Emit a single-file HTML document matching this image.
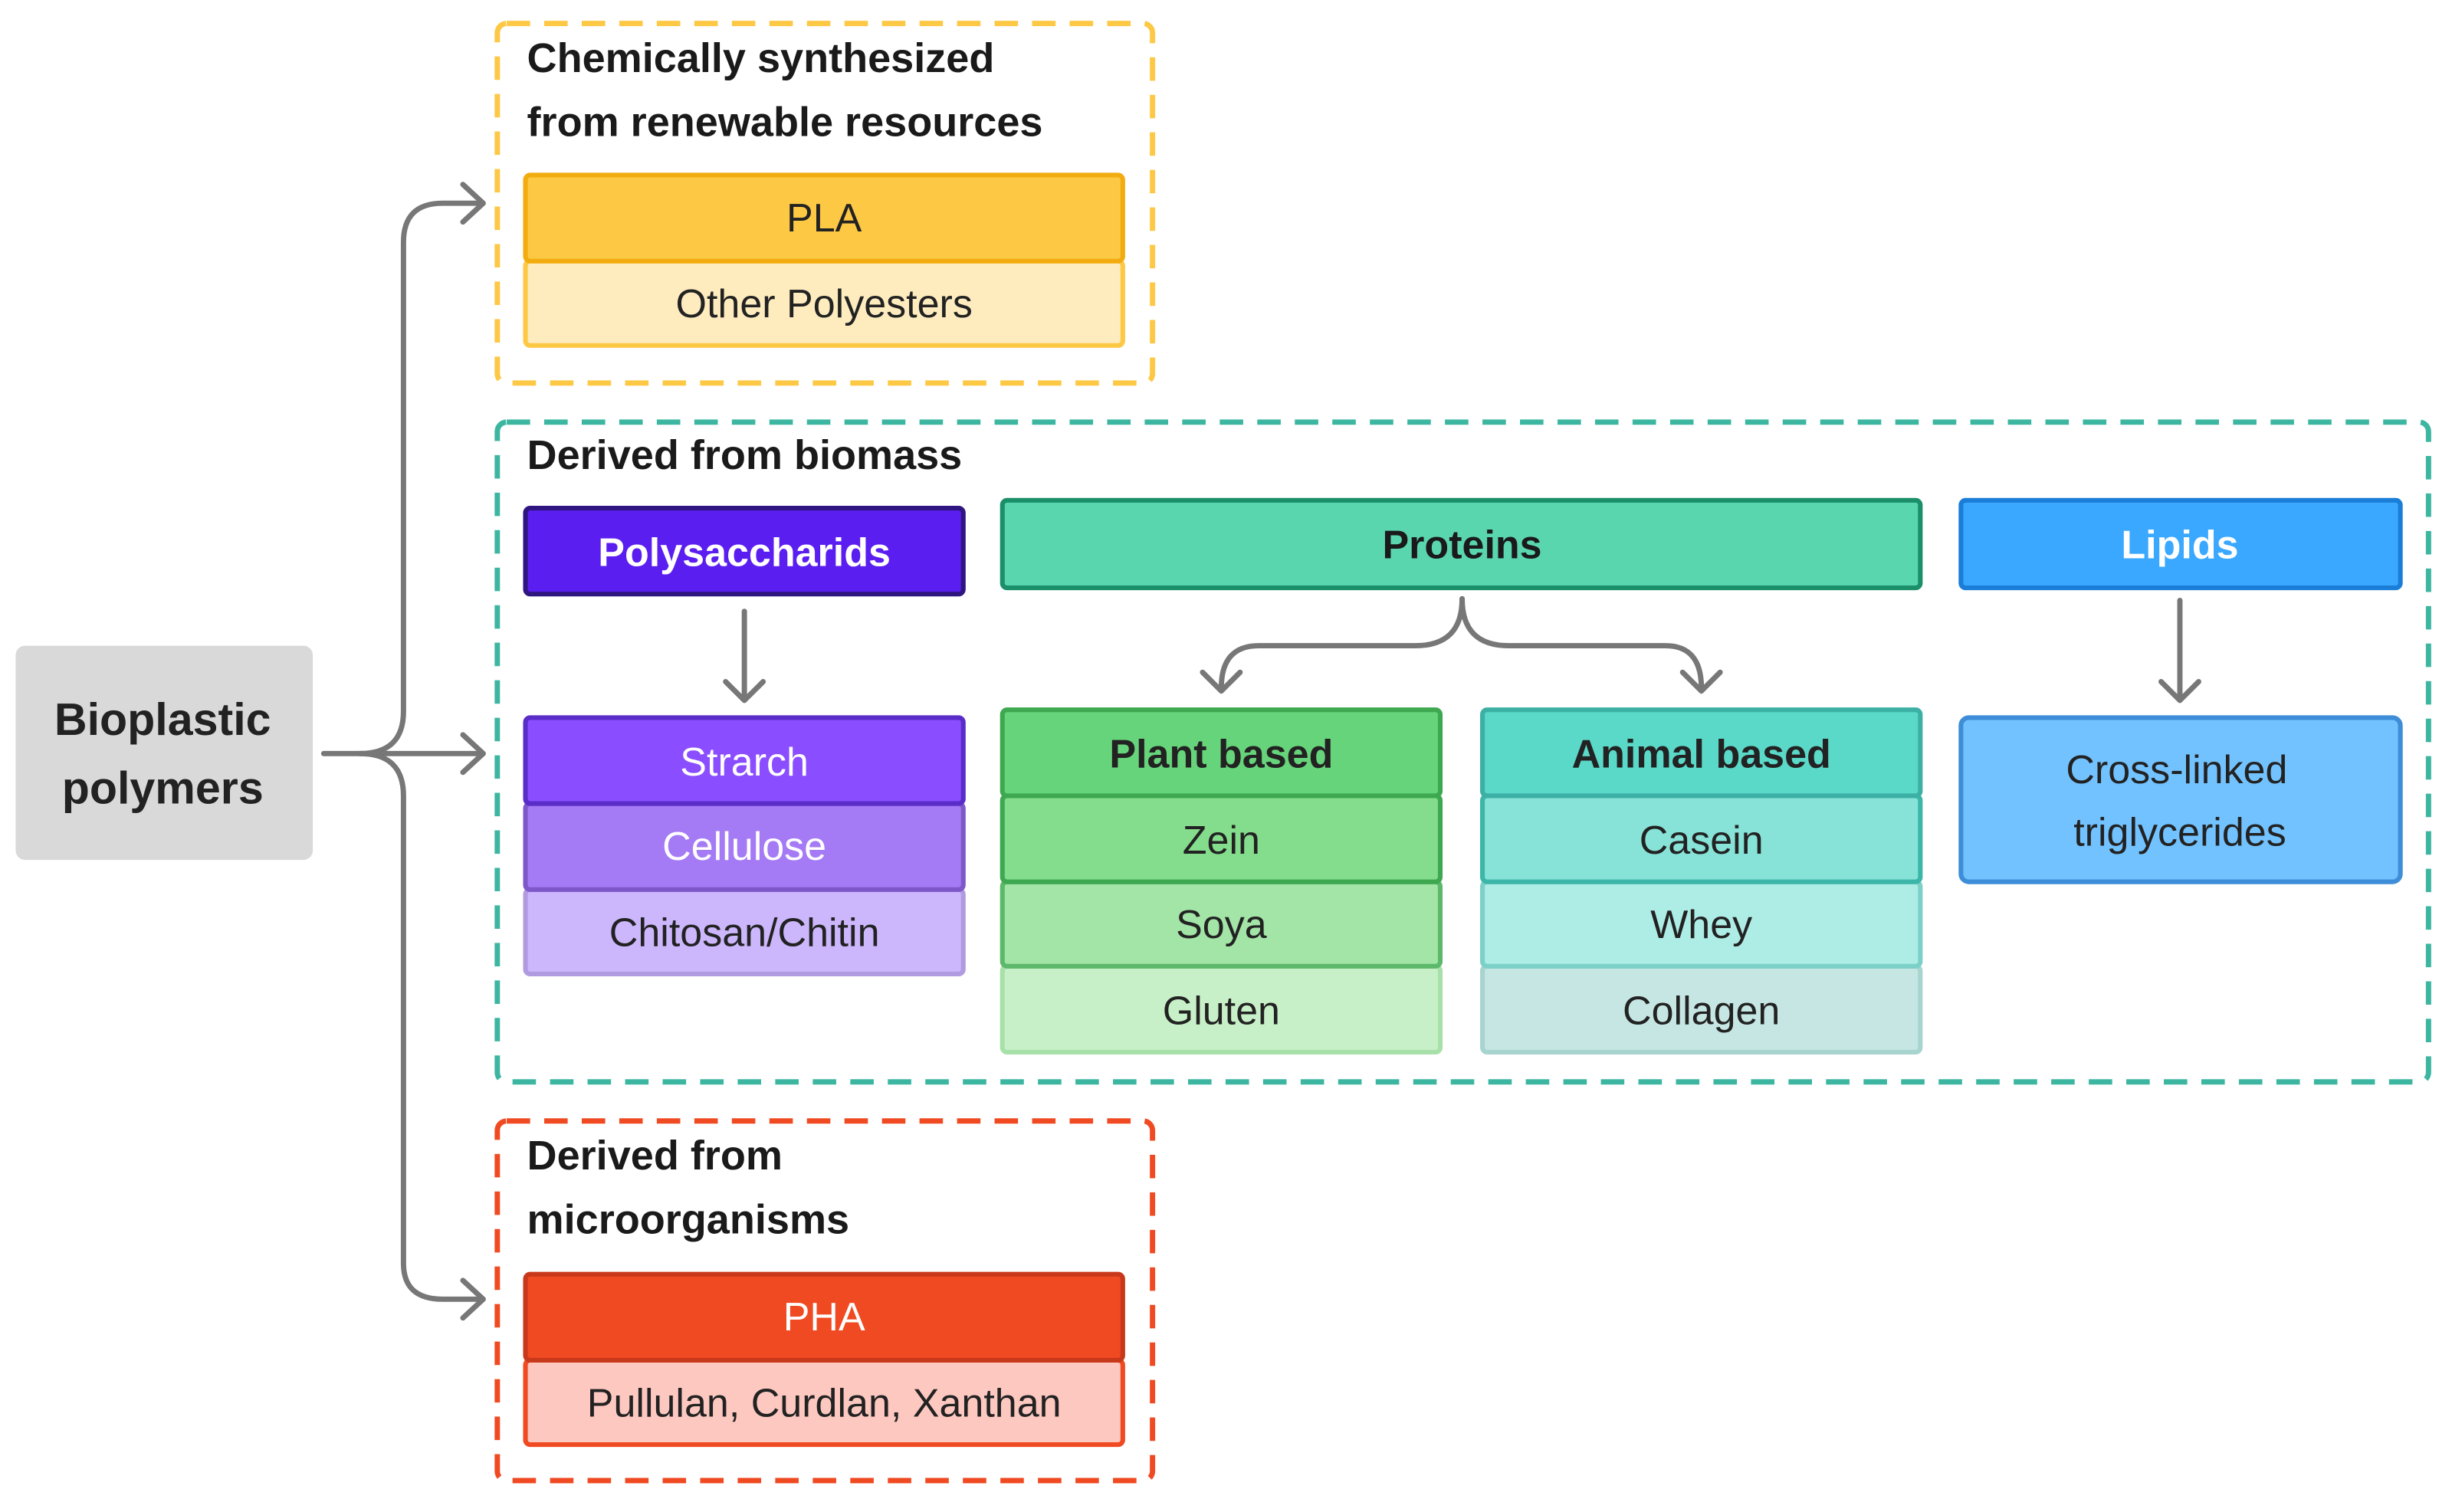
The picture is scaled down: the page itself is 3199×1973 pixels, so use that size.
<!DOCTYPE html>
<html><head><meta charset="utf-8"><style>
html,body{margin:0;padding:0;background:#fff;}
svg{display:block;}
text{font-family:"Liberation Sans",sans-serif;}
</style></head><body>
<svg width="3199" height="1973" viewBox="0 0 1568 967.1" xmlns="http://www.w3.org/2000/svg">
<rect width="1568" height="967.1" fill="#fff"/>
<!-- main node -->
<rect x="10" y="413" width="190" height="137" rx="6" fill="#d9d9d9"/>
<text x="104" y="470" text-anchor="middle" font-size="29" font-weight="bold" fill="#222">Bioplastic</text>
<text x="104" y="514" text-anchor="middle" font-size="29" font-weight="bold" fill="#222">polymers</text>
<!-- connectors -->
<g fill="none" stroke="#777" stroke-width="3.4" stroke-linecap="round" stroke-linejoin="round">
<path d="M207 482 H308"/>
<path d="M230 482 Q258 482 258 455 V155 Q258 130 283 130 H308"/>
<path d="M230 482 Q258 482 258 509 V808 Q258 831 283 831 H308"/>
<path d="M296 118 L309 130 L296 142"/>
<path d="M296 470 L309 482 L296 494"/>
<path d="M296 819 L309 831 L296 843"/>
<path d="M476 391 V447"/><path d="M464 436 L476 448 L488 436"/>
<path d="M1394 384 V447"/><path d="M1382 436 L1394 448 L1406 436"/>
<path d="M935 383 Q935 413 905 413 H805 Q781 413 781 440"/>
<path d="M935 383 Q935 413 965 413 H1065 Q1088 413 1088 440"/>
<path d="M769 430 L781 442 L793 430"/>
<path d="M1076 430 L1088 442 L1100 430"/>
</g>
<!-- dashed groups -->
<g fill="none" stroke-width="3.4" stroke-dasharray="15 9">
<rect x="318" y="15" width="419" height="230" rx="6" stroke="#fdc844"/>
<rect x="318" y="270" width="1235" height="422" rx="6" stroke="#3cb6a0"/>
<rect x="318" y="717" width="419" height="230" rx="6" stroke="#f04a22"/>
</g>
<g font-size="26.5" font-weight="bold" fill="#1a1a1a">
<text x="337" y="46">Chemically synthesized</text>
<text x="337" y="87">from renewable resources</text>
<text x="337" y="300">Derived from biomass</text>
<text x="337" y="748">Derived from</text>
<text x="337" y="789">microorganisms</text>
</g>
<!-- yellow -->
<rect x="336" y="167" width="382" height="54" rx="3" fill="#feecbf" stroke="#fdc844" stroke-width="3"/>
<rect x="336" y="112" width="382" height="55" rx="3" fill="#fdc844" stroke="#f2ac10" stroke-width="3"/>
<g font-size="25.5" fill="#222" text-anchor="middle">
<text x="527" y="148">PLA</text>
<text x="527" y="203">Other Polyesters</text>
</g>
<!-- red -->
<rect x="336" y="870" width="382" height="54" rx="3" fill="#fdc8c0" stroke="#f04a22" stroke-width="3"/>
<rect x="336" y="815" width="382" height="55" rx="3" fill="#f04a22" stroke="#c8381a" stroke-width="3"/>
<text x="527" y="851" font-size="25.5" fill="#fff" text-anchor="middle">PHA</text>
<text x="527" y="906" font-size="25.5" fill="#222" text-anchor="middle">Pullulan, Curdlan, Xanthan</text>
<!-- polysaccharids -->
<rect x="336" y="325" width="280" height="55" rx="3" fill="#5b1ef0" stroke="#2e1580" stroke-width="3"/>
<text x="476" y="362" font-size="25.5" font-weight="bold" fill="#fff" text-anchor="middle">Polysaccharids</text>
<rect x="336" y="569" width="280" height="54" rx="3" fill="#ccb6fc" stroke="#b09be0" stroke-width="3"/>
<rect x="336" y="514" width="280" height="55" rx="3" fill="#a57bf5" stroke="#7e58c8" stroke-width="3"/>
<rect x="336" y="459" width="280" height="55" rx="3" fill="#8a4dff" stroke="#5a2dc8" stroke-width="3"/>
<g font-size="25.5" text-anchor="middle">
<text x="476" y="496" fill="#fff">Strarch</text>
<text x="476" y="550" fill="#fff">Cellulose</text>
<text x="476" y="605" fill="#222">Chitosan/Chitin</text>
</g>
<!-- proteins -->
<rect x="641" y="320" width="587" height="56" rx="3" fill="#5ad6ae" stroke="#1a8f6a" stroke-width="3"/>
<text x="935" y="357" font-size="25.5" font-weight="bold" fill="#1a1a1a" text-anchor="middle">Proteins</text>
<rect x="641" y="618" width="280" height="55" rx="3" fill="#c8f0c8" stroke="#a8e0aa" stroke-width="3"/>
<rect x="641" y="564" width="280" height="54" rx="3" fill="#a3e5a6" stroke="#5cb86a" stroke-width="3"/>
<rect x="641" y="509" width="280" height="55" rx="3" fill="#84dd8c" stroke="#3ea850" stroke-width="3"/>
<rect x="641" y="454" width="280" height="55" rx="3" fill="#66d47a" stroke="#3ea850" stroke-width="3"/>
<rect x="948" y="618" width="280" height="55" rx="3" fill="#c5e6e3" stroke="#a8d4d0" stroke-width="3"/>
<rect x="948" y="564" width="280" height="54" rx="3" fill="#aeece6" stroke="#7cd0c8" stroke-width="3"/>
<rect x="948" y="509" width="280" height="55" rx="3" fill="#87e3d8" stroke="#3cb6a8" stroke-width="3"/>
<rect x="948" y="454" width="280" height="55" rx="3" fill="#5ad8c8" stroke="#3cb0a4" stroke-width="3"/>
<g font-size="25.5" fill="#222" text-anchor="middle">
<text x="781" y="491" font-weight="bold">Plant based</text>
<text x="781" y="546">Zein</text>
<text x="781" y="600">Soya</text>
<text x="781" y="655">Gluten</text>
<text x="1088" y="491" font-weight="bold">Animal based</text>
<text x="1088" y="546">Casein</text>
<text x="1088" y="600">Whey</text>
<text x="1088" y="655">Collagen</text>
</g>
<!-- lipids -->
<rect x="1254" y="320" width="281" height="56" rx="3" fill="#3aa8ff" stroke="#1a7ed8" stroke-width="3"/>
<text x="1394" y="357" font-size="25.5" font-weight="bold" fill="#fff" text-anchor="middle">Lipids</text>
<rect x="1254" y="459" width="281" height="105" rx="5" fill="#72c2ff" stroke="#3d8dd8" stroke-width="3"/>
<text x="1392" y="501" font-size="25.5" fill="#222" text-anchor="middle">Cross-linked</text>
<text x="1394" y="541" font-size="25.5" fill="#222" text-anchor="middle">triglycerides</text>
</svg>
</body></html>
